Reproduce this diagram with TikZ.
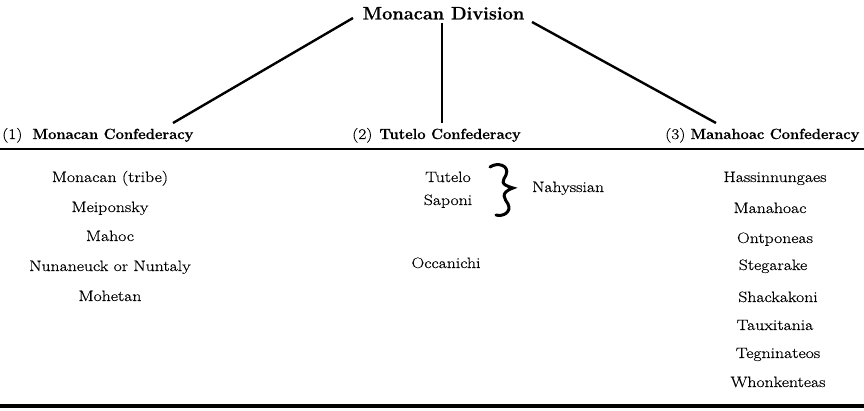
\documentclass[tikz,border=0pt]{standalone}
\usepackage{fontspec}
\newfontfamily\itemfont{Latin Modern Roman}[FakeStretch=1.18,FakeBold=0.5]
\newfontfamily\headfont{Latin Modern Roman}[FakeBold=0.6]
\begin{document}
\begin{tikzpicture}[x=1pt,y=-1pt,
  item/.style={inner sep=0pt,anchor=base,font=\itemfont\fontsize{15}{18}\selectfont},
  head/.style={inner sep=0pt,anchor=base west,font=\fontsize{14.7}{18}\selectfont},
  title/.style={inner sep=0pt,anchor=base,font=\headfont\fontsize{18.2}{22}\selectfont\bfseries},
  link/.style={line width=2.4pt},
  rule/.style={line width=2.4pt}]
\useasboundingbox (0,0) rectangle (864,411);
% title
\node[title] (div) at (443.5,19.5) {Monacan Division};
% headers
\node[head] (h1) at (2,139) {{\itemfont(1)}\hspace{10pt}{\headfont\bfseries Monacan Confederacy}};
\node[head] (h2) at (352,139) {{\itemfont(2)}\hspace{7pt}{\headfont\bfseries Tutelo Confederacy}};
\node[head] (h3) at (665,139) {{\itemfont(3)}\hspace{5pt}{\headfont\bfseries Manahoac Confederacy}};
% connector end points
\coordinate (l1) at (353,18);
\coordinate (l2) at (173,123);
\coordinate (m1) at (442,23);
\coordinate (m2) at (442,123);
\coordinate (r1) at (532,22);
\coordinate (r2) at (716,123);
\draw[link] (l1) -- (l2);
\draw[link] (m1) -- (m2);
\draw[link] (r1) -- (r2);
% rules
\coordinate (ta) at (0,149);
\coordinate (tb) at (864,149);
\coordinate (ba) at (0,406);
\coordinate (bb) at (864,406);
\draw[rule] (ta) -- (tb);
\draw[line width=3.6pt] (ba) -- (bb);
% left column
\node[item] (a1) at (110,182) {Monacan (tribe)};
\node[item] (a2) at (110,212) {Meiponsky};
\node[item] (a3) at (110,241) {Mahoc};
\node[item] (a4) at (110,271) {Nunaneuck or Nuntaly};
\node[item] (a5) at (110,301) {Mohetan};
% middle column
\node[item] (b1) at (448,182) {Tutelo};
\node[item] (b2) at (448,205) {Saponi};
\node[item, anchor=base west] (b3) at (532,192) {Nahyssian};
\node[item] (b4) at (446,268) {Occanichi};
\draw[line width=3pt,line cap=round]
  (490,167) .. controls (497,162) and (510,165) .. (506,175)
  .. controls (503,181) and (499,184) .. (513,188)
  .. controls (499,193) and (505,199) .. (508,204)
  .. controls (512,212) and (503,217) .. (496,215);
% right column
\node[item] (c1) at (775,182) {Hassinnungaes};
\node[item] (c2) at (770,213) {Manahoac};
\node[item] (c3) at (775,243) {Ontponeas};
\node[item] (c4) at (773,270) {Stegarake};
\node[item] (c5) at (778,302) {Shackakoni};
\node[item] (c6) at (775,330) {Tauxitania};
\node[item] (c7) at (778,358) {Tegninateos};
\node[item] (c8) at (778,387) {Whonkenteas};
\end{tikzpicture}
\end{document}
